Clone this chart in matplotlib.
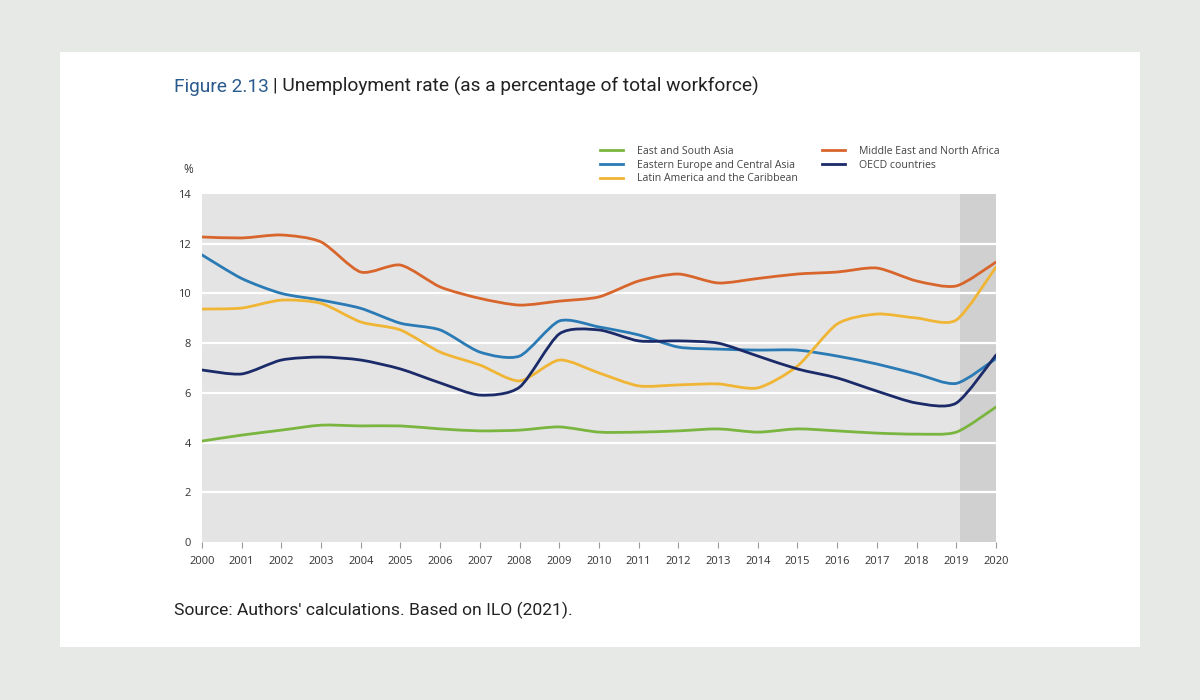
import numpy as np
import matplotlib.pyplot as plt
from matplotlib.path import Path
from matplotlib.patches import PathPatch, Rectangle
from matplotlib.lines import Line2D

# data
years = list(range(2000, 2021))
east_south_asia = [4.06, 4.3, 4.5, 4.7, 4.67, 4.67, 4.55, 4.47, 4.5, 4.63, 4.42,
                   4.42, 4.47, 4.55, 4.42, 4.55, 4.47, 4.38, 4.34, 4.42, 5.43]
eastern_europe = [11.55, 10.6, 10.0, 9.73, 9.4, 8.8, 8.53, 7.64, 7.48, 8.89, 8.65,
                  8.33, 7.84, 7.76, 7.72, 7.72, 7.48, 7.16, 6.76, 6.38, 7.38]
latin_america = [9.37, 9.41, 9.73, 9.6, 8.85, 8.53, 7.64, 7.12, 6.48, 7.32, 6.8,
                 6.28, 6.32, 6.36, 6.2, 7.08, 8.77, 9.17, 9.01, 8.93, 11.06]
mena = [12.27, 12.23, 12.35, 12.07, 10.86, 11.14, 10.26, 9.8, 9.53, 9.69, 9.86,
        10.5, 10.78, 10.42, 10.6, 10.78, 10.86, 11.02, 10.5, 10.3, 11.26]
oecd = [6.92, 6.76, 7.32, 7.44, 7.32, 6.96, 6.4, 5.91, 6.23, 8.37, 8.53,
        8.09, 8.09, 8.0, 7.48, 6.96, 6.6, 6.07, 5.59, 5.59, 7.52]

series = [
    ("East and South Asia", east_south_asia, "#7ab540"),
    ("Eastern Europe and Central Asia", eastern_europe, "#2a7ab5"),
    ("Latin America and the Caribbean", latin_america, "#f0b534"),
    ("Middle East and North Africa", mena, "#d8662c"),
    ("OECD countries", oecd, "#1b2a68"),
]


# smoothed line: catmull-rom turned into bezier segments, a bit tighter
def smooth_path(x, y, k=1 / 8.0):
    pts = np.column_stack([np.asarray(x, float), np.asarray(y, float)])
    verts = [pts[0]]
    codes = [Path.MOVETO]
    n = len(pts)
    for i in range(n - 1):
        p0 = pts[max(i - 1, 0)]
        p1 = pts[i]
        p2 = pts[i + 1]
        p3 = pts[min(i + 2, n - 1)]
        c1 = p1 + (p2 - p0) * k
        c2 = p2 - (p3 - p1) * k
        verts += [c1, c2, p2]
        codes += [Path.CURVE4] * 3
    return Path(verts, codes)


fig = plt.figure(figsize=(12, 7), dpi=100)
fig.patch.set_facecolor("#e7e9e6")
fig.patches.append(Rectangle((0.05, 0.0757), 0.9, 0.85, transform=fig.transFigure,
                             facecolor="white", edgecolor="none", zorder=-1))

ax = fig.add_axes([0.1683, 0.2257, 0.6617, 0.4972])
ax.set_zorder(2)
ax.set_facecolor("#e4e4e4")
ax.axvspan(2019.1, 2020, color="#d0d0d0", zorder=0.5, lw=0)
for v in range(2, 14, 2):
    ax.axhline(v, color="white", lw=1.6, zorder=1)

for name, vals, col in series:
    ax.add_patch(PathPatch(smooth_path(years, vals), facecolor="none", edgecolor=col,
                           lw=2.0, zorder=3, capstyle="round", joinstyle="round"))

ax.set_xlim(2000, 2020)
ax.set_ylim(0, 14)
ax.set_xticks(years)
ax.set_yticks(range(0, 15, 2))
for s in ax.spines.values():
    s.set_visible(False)
ax.tick_params(axis="y", length=0, pad=8, labelsize=8, labelcolor="#333333")
ax.tick_params(axis="x", length=4, color="#999999", pad=6, labelsize=8,
               labelcolor="#333333")
for lab in ax.get_xticklabels() + ax.get_yticklabels():
    lab.set_family("Open Sans")

ax.text(-0.017, 1.07, "%", transform=ax.transAxes, fontsize=8.5, color="#333333",
        ha="center", va="center", family="Open Sans")

handles = [Line2D([0], [0], color=c, lw=2) for _, _, c in series]
labels = [n for n, _, _ in series]
fig.legend(handles, labels, ncol=2, loc="upper left",
           bbox_to_anchor=(0.492, 0.805), frameon=False,
           handlelength=2.2, handletextpad=1.3, columnspacing=2.3,
           labelspacing=0.25, prop={"family": "Open Sans", "size": 7.6},
           labelcolor="#444444")

# title in two colours
t1 = fig.text(0.145, 0.876, "Figure 2.13", fontsize=13.8, color="#2a5a8c",
              family="Roboto", ha="left", va="center")
fig.canvas.draw()
bb = t1.get_window_extent()
x2 = (bb.x1 + 4) / fig.bbox.width
fig.text(x2, 0.876, "| Unemployment rate (as a percentage of total workforce)",
         fontsize=13.8, color="#222222", family="Roboto", ha="left", va="center")

fig.text(0.145, 0.128, "Source: Authors' calculations. Based on ILO (2021).",
         fontsize=12.6, color="#222222", family="Roboto", ha="left", va="center")

fig.savefig("out.png", dpi=100, facecolor=fig.get_facecolor())
